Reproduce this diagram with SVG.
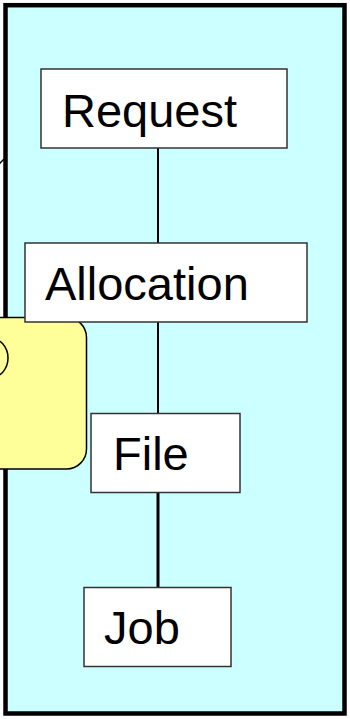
<svg xmlns="http://www.w3.org/2000/svg" width="350" height="719" viewBox="0 0 350 719">
<style>
.box{fill:#ffffff;stroke:#333333;stroke-width:1.5}
.lbl{font-family:"Liberation Sans",Arial,sans-serif;font-size:47px;fill:#000000}
.con{stroke:#000000;fill:none}
</style>
<rect x="0" y="0" width="350" height="719" fill="#ffffff"/>
<g id="panel">
<rect x="5.5" y="5.2" width="339" height="708.3" fill="#ccffff" stroke="#000000" stroke-width="4.5"/>
</g>
<g id="offcanvas-curve">
<path d="M-6,170 Q0,163 4,159" class="con" stroke-width="1.5"/>
</g>
<g id="connectors">
<line x1="158" y1="148" x2="158" y2="243" class="con" stroke-width="2"/>
<line x1="158" y1="322" x2="158" y2="413" class="con" stroke-width="2"/>
<line x1="158" y1="492" x2="158" y2="587" class="con" stroke-width="3"/>
</g>
<g id="callout">
<rect x="-40" y="317.5" width="126.5" height="151.5" rx="20" ry="20" fill="#ffff99" stroke="#000000" stroke-width="1.5"/>
<ellipse cx="-10" cy="358" rx="18" ry="20" fill="none" stroke="#000000" stroke-width="1.5"/>
</g>
<g id="request">
<rect class="box" x="41" y="69" width="246" height="79"/>
<text class="lbl" x="62" y="126.5">Request</text>
</g>
<g id="allocation">
<rect class="box" x="25" y="243" width="282" height="79"/>
<text class="lbl" x="45" y="299.5">Allocation</text>
</g>
<g id="file">
<rect class="box" x="91" y="413.5" width="149" height="79"/>
<text class="lbl" x="113" y="470">File</text>
</g>
<g id="job">
<rect class="box" x="84" y="587.5" width="147" height="79"/>
<text class="lbl" x="104" y="644">Job</text>
</g>
</svg>
